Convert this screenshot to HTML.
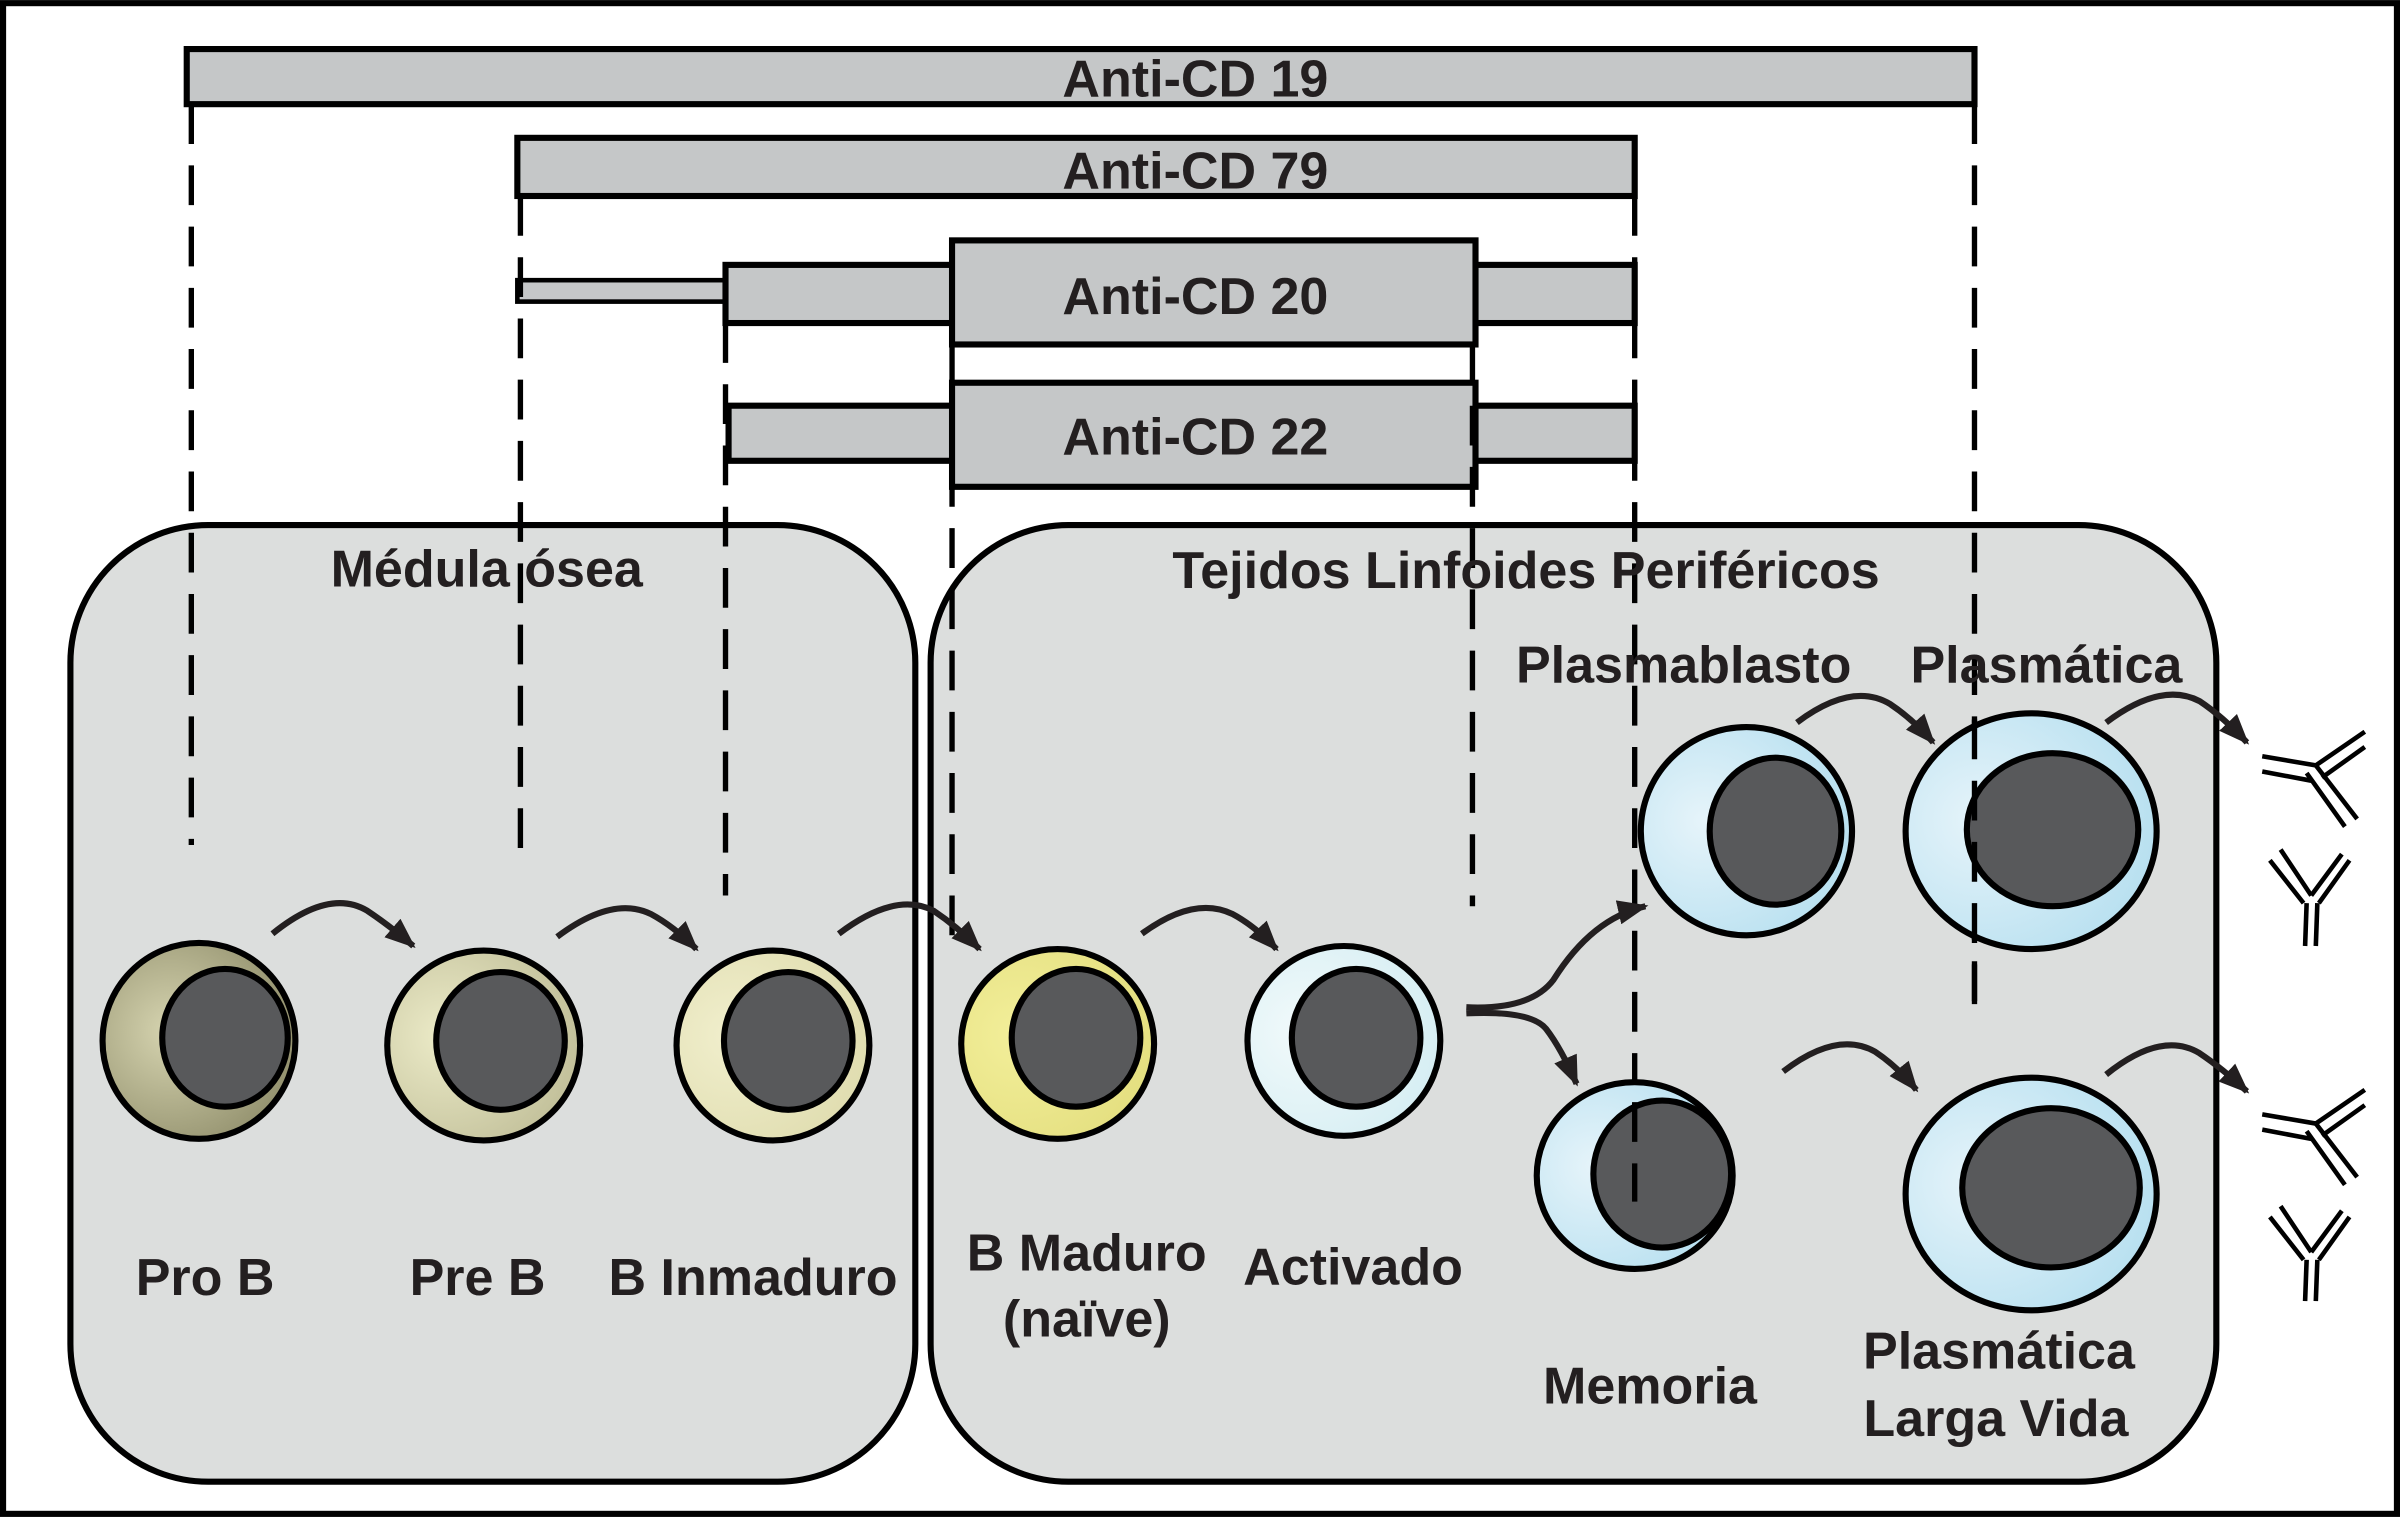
<!DOCTYPE html>
<html><head><meta charset="utf-8"><style>html,body{margin:0;padding:0;background:#fff}svg{display:block}.t{font-family:"Liberation Sans",Arial,sans-serif;font-weight:bold;font-size:34px;fill:#231f20}</style></head><body>
<svg width="2400" height="1517" viewBox="0 0 1568 991" xmlns="http://www.w3.org/2000/svg">
<defs>
<radialGradient id="g1" cx="0.35" cy="0.45" r="0.7"><stop offset="0" stop-color="#d6d4b0"/><stop offset="1" stop-color="#8f8d6a"/></radialGradient>
<radialGradient id="g2" cx="0.3" cy="0.45" r="0.7"><stop offset="0" stop-color="#ecebc8"/><stop offset="1" stop-color="#c2c09a"/></radialGradient>
<radialGradient id="g3" cx="0.3" cy="0.45" r="0.7"><stop offset="0" stop-color="#f1efcd"/><stop offset="1" stop-color="#e0ddb0"/></radialGradient>
<radialGradient id="g4" cx="0.3" cy="0.45" r="0.7"><stop offset="0" stop-color="#f3ef9a"/><stop offset="1" stop-color="#e4df80"/></radialGradient>
<radialGradient id="g5" cx="0.3" cy="0.45" r="0.7"><stop offset="0" stop-color="#f2fafb"/><stop offset="1" stop-color="#d6eef3"/></radialGradient>
<radialGradient id="g6" cx="0.3" cy="0.45" r="0.7"><stop offset="0" stop-color="#e6f4fa"/><stop offset="1" stop-color="#b8e0f0"/></radialGradient>
<marker id="ah2" markerWidth="22" markerHeight="22" refX="18" refY="11" orient="auto" markerUnits="userSpaceOnUse" viewBox="0 0 22 22"><path d="M0,3 L20,11 L0,19 z" fill="#231f20"/></marker>
</defs>
<rect x="2" y="2" width="1564" height="987" fill="#fff" stroke="#000" stroke-width="4"/>
<g fill="#dcdedd" stroke="#000" stroke-width="4">
<rect x="46" y="343" width="552" height="625" rx="90"/>
<rect x="608" y="343" width="840" height="625" rx="90"/>
</g>
<g fill="#c5c7c8" stroke="#000" stroke-width="4">
<rect x="122" y="32" width="1168" height="36"/>
<rect x="338" y="90" width="730" height="38"/>
<rect x="338" y="183" width="136" height="14" stroke-width="3"/>
<rect x="474" y="173" width="594" height="38"/>
<rect x="622" y="157" width="342" height="68"/>
<rect x="476" y="265" width="592" height="36"/>
<rect x="622" y="250" width="342" height="68"/>
</g>
<g stroke="#000" stroke-width="3.5" stroke-dasharray="26,14" fill="none">
<line x1="125" y1="68" x2="125" y2="552"/>
<line x1="340" y1="128" x2="340" y2="565"/>
<line x1="474" y1="211" x2="474" y2="585"/>
<line x1="622" y1="225" x2="622" y2="622"/>
<line x1="962" y1="225" x2="962" y2="592"/>
<line x1="1068" y1="128" x2="1068" y2="785"/>
<line x1="1290" y1="68" x2="1290" y2="660"/>
</g>
<g class="t" text-anchor="middle">
<text x="781" y="63">Anti-CD 19</text>
<text x="781" y="123">Anti-CD 79</text>
<text x="781" y="205">Anti-CD 20</text>
<text x="781" y="297">Anti-CD 22</text>
<text x="318" y="383">Médula ósea</text>
<text x="997" y="384">Tejidos Linfoides Periféricos</text>
<text x="1100" y="446">Plasmablasto</text>
<text x="1337" y="446">Plasmática</text>
<text x="134" y="846">Pro B</text>
<text x="312" y="846">Pre B</text>
<text x="492" y="846">B Inmaduro</text>
<text x="710" y="830">B Maduro</text>
<text x="710" y="873">(naïve)</text>
<text x="884" y="839">Activado</text>
<text x="1078" y="917">Memoria</text>
<text x="1306" y="894">Plasmática</text>
<text x="1304" y="938">Larga Vida</text>
</g>
<g stroke="#000" stroke-width="4">
<ellipse cx="130" cy="680" rx="63" ry="64" fill="url(#g1)"/>
<ellipse cx="147" cy="678" rx="41" ry="45" fill="#58595b"/>
<ellipse cx="316" cy="683" rx="63" ry="62" fill="url(#g2)"/>
<ellipse cx="327" cy="680" rx="42" ry="45" fill="#58595b"/>
<ellipse cx="505" cy="683" rx="63" ry="62" fill="url(#g3)"/>
<ellipse cx="515" cy="680" rx="42" ry="45" fill="#58595b"/>
<ellipse cx="691" cy="682" rx="63" ry="62" fill="url(#g4)"/>
<ellipse cx="703" cy="678" rx="42" ry="45" fill="#58595b"/>
<ellipse cx="878" cy="680" rx="63" ry="62" fill="url(#g5)"/>
<ellipse cx="886" cy="678" rx="42" ry="45" fill="#58595b"/>
<ellipse cx="1141" cy="543" rx="69" ry="68" fill="url(#g6)"/>
<ellipse cx="1160" cy="543" rx="43" ry="48" fill="#58595b"/>
<ellipse cx="1327" cy="543" rx="82" ry="77" fill="url(#g6)"/>
<ellipse cx="1341" cy="542" rx="56" ry="50" fill="#58595b"/>
<ellipse cx="1068" cy="768" rx="64" ry="61" fill="url(#g6)"/>
<ellipse cx="1086" cy="767" rx="45" ry="48" fill="#58595b"/>
<ellipse cx="1327" cy="780" rx="82" ry="76" fill="url(#g6)"/>
<ellipse cx="1340" cy="776" rx="58" ry="52" fill="#58595b"/>
</g>
<g stroke="#000" stroke-width="3.5" stroke-dasharray="26,14" fill="none">
<line x1="1068" y1="720" x2="1068" y2="785"/>
<line x1="1290" y1="470" x2="1290" y2="660"/>
</g>
<g stroke="#231f20" stroke-width="4" fill="none" marker-end="url(#ah2)">
<path d="M178,610 Q215,580 240,595 Q255,605 270,618"/>
<path d="M364,612 Q400,585 425,597 Q440,605 455,620"/>
<path d="M548,610 Q585,582 610,595 Q625,605 640,620"/>
<path d="M746,610 Q780,585 805,597 Q820,605 834,620"/>
<path d="M1174,472 Q1210,445 1235,460 Q1250,470 1263,485"/>
<path d="M1376,472 Q1412,445 1437,458 Q1452,468 1468,485"/>
<path d="M1165,700 Q1200,673 1225,687 Q1240,697 1252,712"/>
<path d="M1376,702 Q1412,673 1437,688 Q1452,698 1468,713"/>
<path d="M958,658 Q1000,660 1015,640 Q1040,600 1075,592"/>
<path d="M958,662 Q1000,660 1010,672 Q1020,685 1030,708"/>
</g>
<g stroke="#000" stroke-width="3" fill="none">
<path d="M1478,494 L1513,500 M1478,504 L1510,510"/>
<path d="M1513,500 L1545,478 M1517,508 L1545,488"/>
<path d="M1513,500 L1540,535 M1507,505 L1532,540"/>
<path d="M1490,555 L1510,585 M1483,562 L1505,590 M1510,585 L1530,558 M1515,590 L1535,562 M1507,590 L1506,618 M1514,590 L1513,618"/>
<path d="M1478,728 L1513,734 M1478,738 L1510,744"/>
<path d="M1513,734 L1545,712 M1517,742 L1545,722"/>
<path d="M1513,734 L1540,769 M1507,739 L1532,774"/>
<path d="M1490,788 L1510,818 M1483,795 L1505,823 M1510,818 L1530,791 M1515,823 L1535,795 M1507,823 L1506,850 M1514,823 L1513,850"/>
</g>
</svg>
</body></html>
